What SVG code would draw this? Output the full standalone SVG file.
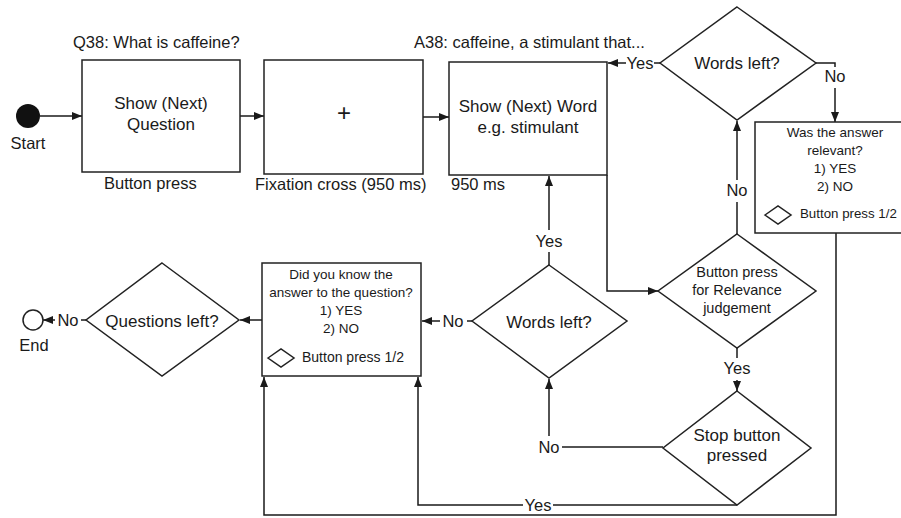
<svg xmlns="http://www.w3.org/2000/svg" width="901" height="518" viewBox="0 0 901 518">
<defs>
<marker id="arr" markerUnits="userSpaceOnUse" markerWidth="10" markerHeight="8" refX="10" refY="4" orient="auto">
<path d="M0,0 L10,4 L0,8 Z" fill="#1a1a1a"/>
</marker>
<style>
.s{fill:#fff;stroke:#222;stroke-width:1.5}
.c{fill:none;stroke:#1a1a1a;stroke-width:1.5}
.a{fill:none;stroke:#1a1a1a;stroke-width:1.5;marker-end:url(#arr)}
text{font-family:"Liberation Sans",Arial,sans-serif;fill:#1a1a1a}
.t{font-size:17px;text-anchor:middle}
.l{font-size:16.5px}
.m{font-size:16.5px;text-anchor:middle}
.sm{font-size:13.5px;text-anchor:middle}
.sl{font-size:14px}
</style>
</defs>
<rect width="901" height="518" fill="#fff"/>

<g id="connectors">
<path class="a" d="M40,116 L82,116"/>
<path class="a" d="M240,116 L264,116"/>
<path class="a" d="M423,117 L449,117"/>
<path class="c" d="M660,63 L654,63"/>
<path class="a" d="M626,63 L608,63"/>
<path class="c" d="M816,63 L835,63 L835,67"/>
<path class="a" d="M835,88 L835,122"/>
<path class="a" d="M607,175 L607,291 L658,291"/>
<path class="c" d="M737,234 L737,202"/>
<path class="a" d="M737,180 L737,121"/>
<path class="c" d="M737,348 L737,358"/>
<path class="a" d="M737,380 L737,391"/>
<path class="c" d="M663,447 L562,447"/>
<path class="a" d="M549,436 L549,379"/>
<path class="c" d="M549,265 L549,252"/>
<path class="a" d="M549,230 L549,176"/>
<path class="c" d="M472,321 L467,321"/>
<path class="a" d="M440,321 L422,321"/>
<path class="a" d="M262,320 L240,320"/>
<path class="c" d="M86,320 L81,320"/>
<path class="a" d="M55,320 L43,320"/>
<path class="c" d="M737,505 L553,505"/>
<path class="a" d="M523,505 L418,505 L418,377"/>
<path class="a" d="M836,233 L836,515 L264,515 L264,377"/>
</g>

<g id="labels">
<text class="l" x="73" y="48">Q38: What is caffeine?</text>
<text class="l" x="414" y="48">A38: caffeine, a stimulant that...</text>
<text class="l" x="104" y="189">Button press</text>
<text class="l" x="255" y="190">Fixation cross (950 ms)</text>
<text class="l" x="451" y="190">950 ms</text>
<text class="m" x="640" y="69">Yes</text>
<text class="m" x="835" y="82">No</text>
<text class="m" x="737" y="196">No</text>
<text class="m" x="737" y="374">Yes</text>
<text class="m" x="549" y="247">Yes</text>
<text class="m" x="549" y="453">No</text>
<text class="m" x="453" y="327">No</text>
<text class="m" x="68" y="326">No</text>
<text class="m" x="538" y="511">Yes</text>
</g>

<g id="start">
<circle cx="28" cy="116" r="12" fill="#111"/>
<text class="m" x="28" y="149">Start</text>
</g>

<g id="show-question">
<rect class="s" x="82" y="60" width="158" height="112"/>
<text class="t" x="161" y="109">Show (Next)</text>
<text class="t" x="161" y="130">Question</text>
</g>

<g id="fixation">
<rect class="s" x="264" y="60" width="159" height="114"/>
<text x="344" y="121" style="font-size:24px;text-anchor:middle">+</text>
</g>

<g id="show-word">
<rect class="s" x="449" y="62" width="158" height="113"/>
<text class="t" x="528" y="112">Show (Next) Word</text>
<text class="t" x="528" y="133">e.g. stimulant</text>
</g>

<g id="words-left-top">
<polygon class="s" points="737,7 816,63 737,120 660,63"/>
<text class="t" x="737" y="69">Words left?</text>
</g>

<g id="answer-relevant">
<rect class="s" x="755" y="122" width="160" height="111"/>
<text class="sm" x="835" y="137">Was the answer</text>
<text class="sm" x="835" y="155">relevant?</text>
<text class="sm" x="835" y="173">1) YES</text>
<text class="sm" x="835" y="191">2) NO</text>
<polygon class="s" points="765,215 778,206 791,215 778,224"/>
<text x="800" y="218" style="font-size:13.3px">Button press 1/2</text>
</g>

<g id="relevance-judgement">
<polygon class="s" points="737,234 816,291 737,348 658,291"/>
<text x="737" y="277" style="font-size:14.5px;text-anchor:middle">Button press</text>
<text x="737" y="295" style="font-size:14.5px;text-anchor:middle">for Relevance</text>
<text x="737" y="313" style="font-size:14.5px;text-anchor:middle">judgement</text>
</g>

<g id="stop-button">
<polygon class="s" points="737,391 811,448 737,505 663,448"/>
<text class="t" x="737" y="441">Stop button</text>
<text class="t" x="737" y="461">pressed</text>
</g>

<g id="words-left-bottom">
<polygon class="s" points="549,265 627,321 549,378 472,321"/>
<text class="t" x="549" y="328">Words left?</text>
</g>

<g id="know-answer">
<rect class="s" x="262" y="263" width="159" height="113"/>
<text class="sm" x="341" y="279">Did you know the</text>
<text class="sm" x="341" y="297">answer to the question?</text>
<text class="sm" x="341" y="315">1) YES</text>
<text class="sm" x="341" y="333">2) NO</text>
<polygon class="s" points="268,358 281,349 294,358 281,367"/>
<text class="sl" x="302" y="362">Button press 1/2</text>
</g>

<g id="questions-left">
<polygon class="s" points="162,263 239,320 162,376 86,320"/>
<text class="t" x="162" y="327">Questions left?</text>
</g>

<g id="end">
<circle cx="33" cy="320" r="10" fill="#fff" stroke="#222" stroke-width="1.5"/>
<text class="m" x="34" y="351">End</text>
</g>
</svg>
